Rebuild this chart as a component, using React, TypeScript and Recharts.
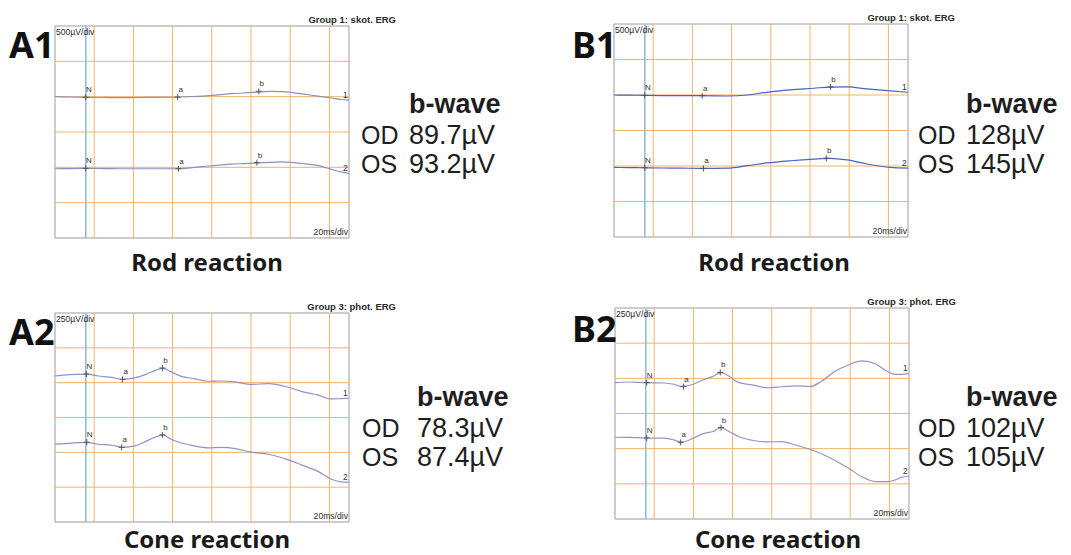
import {
  ComposedChart,
  Line,
  Scatter,
  XAxis,
  YAxis,
  ReferenceLine,
  ReferenceArea,
} from "recharts";

// time base (ms) shared by every recording, 20 ms/div
const timeGrid = [20, 40, 60, 80, 100, 120, 140];
const stimulus = 15.7;

// amplitude grid lines (µV): rod traces 500 µV/div, cone traces 250 µV/div
const rodGrid = [500, 1000, 1500, 2000, 2500];
const coneGrid = [250, 500, 750, 1000, 1250];

// A1 - rod reaction
const a1Time = [0, 8, 16, 25, 34, 48, 63, 70, 77, 84, 90, 96, 103, 110, 116, 122, 128, 135, 141, 146, 150];
const a1Od = [2000, 1995, 1990, 1988, 1986, 1990, 1995, 2002, 2012, 2028, 2042, 2052, 2064, 2074, 2072, 2055, 2032, 2005, 1981, 1960, 1952];
const a1Os = [980, 983, 985, 982, 980, 980, 980, 996, 1015, 1032, 1045, 1053, 1062, 1070, 1078, 1068, 1048, 1020, 972, 935, 914];
const a1Marks = [
  { t: 15.7, v: 1992, label: "N" },
  { t: 62.6, v: 1993, label: "a" },
  { t: 104, v: 2076, label: "b" },
  { t: 15.7, v: 985, label: "N" },
  { t: 63, v: 980, label: "a" },
  { t: 103, v: 1066, label: "b" },
];

// B1 - rod reaction
const b1Time = [0, 8, 16, 25, 34, 45, 58, 68, 78, 90, 102, 110, 119, 129, 141, 150];
const b1Od = [2000, 1998, 1995, 1992, 1990, 1990, 1986, 2000, 2038, 2071, 2095, 2112, 2114, 2086, 2057, 2038];
const b1Os = [980, 978, 975, 972, 970, 966, 970, 1004, 1043, 1074, 1097, 1107, 1085, 1028, 980, 970];
const b1Marks = [
  { t: 15.7, v: 1995, label: "N" },
  { t: 45, v: 1990, label: "a" },
  { t: 110.5, v: 2114, label: "b" },
  { t: 15.7, v: 975, label: "N" },
  { t: 45.6, v: 966, label: "a" },
  { t: 108.3, v: 1109, label: "b" },
];

// A2 - cone reaction
const a2Time = [0, 7, 16, 22, 29, 34.5, 41, 46, 51, 55, 59, 65, 71, 78, 85, 92, 100, 109, 119, 126, 134, 141, 146, 150];
const a2Od = [1048, 1058, 1062, 1048, 1038, 1024, 1036, 1058, 1086, 1105, 1079, 1043, 1029, 1010, 1012, 1005, 988, 993, 967, 936, 912, 883, 886, 888];
const a2Os = [558, 565, 572, 558, 551, 536, 546, 577, 608, 625, 596, 565, 546, 532, 535, 527, 501, 486, 446, 408, 365, 307, 288, 286];
const a2Marks = [
  { t: 16, v: 1062, label: "N" },
  { t: 34.5, v: 1024, label: "a" },
  { t: 54.8, v: 1105, label: "b" },
  { t: 16.2, v: 572, label: "N" },
  { t: 34, v: 536, label: "a" },
  { t: 54.8, v: 625, label: "b" },
];

// B2 - cone reaction
const b2Time = [0, 7, 16, 25, 30, 34, 40, 45, 50, 54, 58, 63, 70, 78, 85, 92, 100, 105, 112, 119, 126, 133, 139, 143, 146, 150];
const b2Od = [969, 974, 969, 967, 958, 943, 958, 990, 1014, 1040, 1017, 971, 953, 933, 940, 947, 943, 976, 1048, 1095, 1124, 1102, 1048, 1028, 1028, 1036];
const b2Os = [581, 580, 576, 575, 563, 546, 575, 607, 622, 649, 624, 586, 560, 548, 550, 526, 492, 466, 418, 362, 300, 266, 265, 278, 296, 304];
const b2Marks = [
  { t: 16.2, v: 969, label: "N" },
  { t: 34.9, v: 941, label: "a" },
  { t: 53.7, v: 1042, label: "b" },
  { t: 16.2, v: 576, label: "N" },
  { t: 33.5, v: 545, label: "a" },
  { t: 54.1, v: 650, label: "b" },
];

const gridColor = "#f2b466";
const boxColor = "#9c9c9c";
const stimColor = "#8fbcd8";
const smallFont = "'Liberation Sans', Arial, sans-serif";
const bigFont = "'Noto Sans', 'Open Sans', sans-serif";

function Mark(props: any) {
  const { cx, cy, payload } = props;
  if (cx == null || cy == null) return null;
  return (
    <g>
      <line x1={cx - 3} x2={cx + 3} y1={cy} y2={cy} stroke="#555" strokeWidth={1} />
      <line x1={cx} x2={cx} y1={cy - 3} y2={cy + 3} stroke="#555" strokeWidth={1} />
      <text x={cx + 3} y={cy - 5} fontSize={8} textAnchor="middle" fill="#333" fontFamily={smallFont}>
        {payload.label}
      </text>
    </g>
  );
}

function EndLabel(props: any) {
  const { cx, cy, payload } = props;
  if (cx == null || cy == null) return null;
  return (
    <text x={cx} y={cy - 2} fontSize={8.5} textAnchor="middle" fill="#333" fontFamily={smallFont}>
      {payload.label}
    </text>
  );
}

interface PanelProps {
  x: number;
  y: number;
  w: number;
  h: number;
  yMax: number;
  yGrid: number[];
  time: number[];
  od: number[];
  os: number[];
  marks: { t: number; v: number; label: string }[];
  color: string;
}

function Panel({ x, y, w, h, yMax, yGrid, time, od, os, marks, color }: PanelProps) {
  const rows = time.map((t, i) => ({ t, od: od[i], os: os[i] }));
  const ends = [
    { t: 148.2, v: od[od.length - 1], label: "1" },
    { t: 148.2, v: os[os.length - 1], label: "2" },
  ];
  return (
    <div style={{ position: "absolute", left: x - 2, top: y - 2 }}>
      <ComposedChart width={w + 4} height={h + 4} data={rows} margin={{ top: 2, right: 2, bottom: 2, left: 2 }}>
        <XAxis type="number" dataKey="t" domain={[0, 150]} hide allowDataOverflow />
        <YAxis type="number" domain={[0, yMax]} hide allowDataOverflow />
        {timeGrid.map((v) => (
          <ReferenceLine key={"x" + v} x={v} stroke={gridColor} strokeWidth={1} />
        ))}
        {yGrid.map((v) => (
          <ReferenceLine key={"y" + v} y={v} stroke={gridColor} strokeWidth={1} />
        ))}
        <ReferenceArea x1={0} x2={150} y1={0} y2={yMax} fill="none" stroke={boxColor} strokeWidth={1} />
        <ReferenceLine x={stimulus} stroke={stimColor} strokeWidth={1.6} />
        <Line type="monotone" dataKey="od" stroke={color} strokeWidth={1.2} dot={false} isAnimationActive={false} />
        <Line type="monotone" dataKey="os" stroke={color} strokeWidth={1.2} dot={false} isAnimationActive={false} />
        <Scatter data={marks} dataKey="v" shape={(p: any) => <Mark {...p} />} isAnimationActive={false} />
        <Scatter data={ends} dataKey="v" shape={(p: any) => <EndLabel {...p} />} isAnimationActive={false} />
      </ComposedChart>
    </div>
  );
}

interface ResultProps {
  odX: number;
  valX: number;
  base: number;
  od: string;
  os: string;
}

function Result({ odX, valX, base, od, os }: ResultProps) {
  return (
    <g fill="#1e1e1e" fontFamily={smallFont}>
      <text x={valX} y={base} fontSize={27} fontWeight="bold">
        b-wave
      </text>
      <text x={odX} y={base + 31} fontSize={25}>OD</text>
      <text x={valX} y={base + 31} fontSize={27}>{od}</text>
      <text x={odX} y={base + 60} fontSize={25}>OS</text>
      <text x={valX} y={base + 60} fontSize={27}>{os}</text>
    </g>
  );
}

interface BoxTextProps {
  x: number;
  y: number;
  w: number;
  h: number;
  scale: string;
  group: string;
}

function BoxText({ x, y, w, h, scale, group }: BoxTextProps) {
  return (
    <g fill="#2a2a2a" fontFamily={smallFont}>
      <text x={x + w + 47} y={y - 3} fontSize={9.5} fontWeight="bold" textAnchor="end">
        {group}
      </text>
      <text x={x + 1} y={y + 9} fontSize={8.6}>{scale}</text>
      <text x={x + w - 1} y={y + h - 3} fontSize={8.6} textAnchor="end">20ms/div</text>
    </g>
  );
}

export default function App() {
  return (
    <div style={{ position: "absolute", left: 0, top: 0, width: 1071, height: 555, background: "#fff", overflow: "hidden" }}>
      <Panel x={55} y={26} w={294} h={212} yMax={3000} yGrid={rodGrid} time={a1Time} od={a1Od} os={a1Os} marks={a1Marks} color="#8a8fc6" />
      <Panel x={614} y={24} w={294} h={213} yMax={3000} yGrid={rodGrid} time={b1Time} od={b1Od} os={b1Os} marks={b1Marks} color="#4a62c4" />
      <Panel x={55} y={313} w={294} h={209} yMax={1500} yGrid={coneGrid} time={a2Time} od={a2Od} os={a2Os} marks={a2Marks} color="#8d93c8" />
      <Panel x={615} y={308} w={294} h={211} yMax={1500} yGrid={coneGrid} time={b2Time} od={b2Od} os={b2Os} marks={b2Marks} color="#9096ca" />
      <svg width={1071} height={555} style={{ position: "absolute", left: 0, top: 0, pointerEvents: "none" }}>
        <BoxText x={55} y={26} w={294} h={212} scale="500µV/div" group="Group 1: skot. ERG" />
        <BoxText x={614} y={24} w={294} h={213} scale="500µV/div" group="Group 1: skot. ERG" />
        <BoxText x={55} y={313} w={294} h={209} scale="250µV/div" group="Group 3: phot. ERG" />
        <BoxText x={615} y={308} w={294} h={211} scale="250µV/div" group="Group 3: phot. ERG" />

        <g fill="#111" fontFamily={bigFont} fontWeight="bold" fontSize={36}>
          <text x={9} y={58}>A1</text>
          <text x={572} y={58}>B1</text>
          <text x={9} y={345}>A2</text>
          <text x={572} y={342}>B2</text>
        </g>

        <Result odX={361} valX={409} base={113} od="89.7µV" os="93.2µV" />
        <Result odX={918} valX={966} base={113} od="128µV" os="145µV" />
        <Result odX={362} valX={417} base={406} od="78.3µV" os="87.4µV" />
        <Result odX={918} valX={966} base={406} od="102µV" os="105µV" />

        <g fill="#1a1a1a" fontFamily={bigFont} fontWeight="bold" fontSize={24} textAnchor="middle">
          <text x={207} y={271}>Rod reaction</text>
          <text x={774} y={271}>Rod reaction</text>
          <text x={207} y={548}>Cone reaction</text>
          <text x={778} y={548}>Cone reaction</text>
        </g>
      </svg>
    </div>
  );
}
